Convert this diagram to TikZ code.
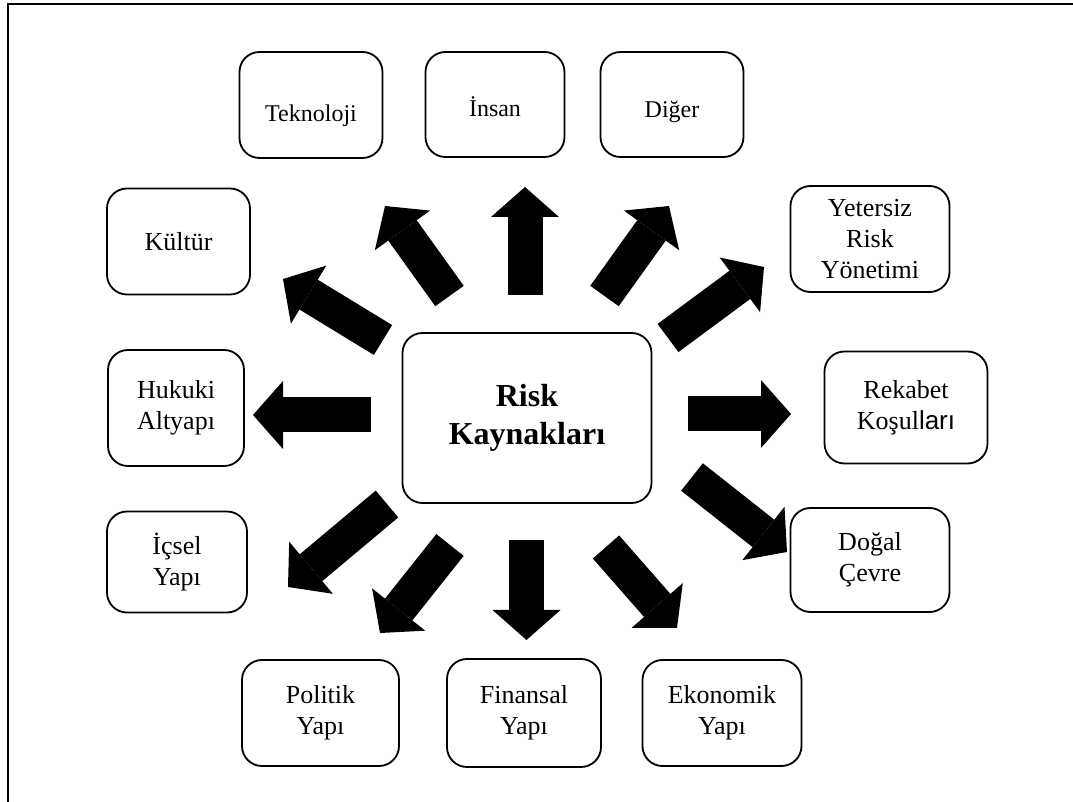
\documentclass[tikz,border=0pt]{standalone}
\usepackage{fontspec}
\setmainfont{Liberation Serif}
\newfontfamily\arialfont{Liberation Sans}
\usetikzlibrary{arrows.meta}

\begin{document}
\begin{tikzpicture}[x=0.5pt, y=-0.5pt,
    kutu/.style={draw, line width=0.9pt, rounded corners=10pt, minimum width=71.5pt,
        minimum height=53pt, align=center, inner sep=2pt, font=\fontsize{13}{15.5}\selectfont},
    ustkutu/.style={kutu, font=\fontsize{12}{14}\selectfont},
    merkez/.style={kutu, minimum width=124.5pt, minimum height=85pt, font=\fontsize{16}{19}\selectfont\bfseries},
    okblok/.style={line width=17.5pt, -{Triangle[length=15pt, width=34pt, line width=0pt]}}]

    \useasboundingbox (0,0) rectangle (1073,802);
    \draw[line width=1.4pt] (8,802) |- (1073,4);

    % Nodes
    \node[merkez] (risk) at (527,418) {Risk\\Kaynakları};
    \node[ustkutu, text height=19pt, text depth=2.6pt] (tek) at (311,105) {Teknoloji};
    \node[ustkutu, minimum width=69.5pt, minimum height=52.5pt, text height=12.2pt, text depth=0pt] (insan) at (495,104.5) {İnsan};
    \node[ustkutu, minimum height=52.5pt, text height=15.4pt, text depth=2.6pt] (diger) at (672,104.5) {Diğer};
    \node[kutu] (kultur) at (178.5,241.5) {Kültür};
    \node[kutu, minimum width=79.5pt] (yet) at (870,239) {Yetersiz\\Risk\\Yönetimi};
    \node[kutu, minimum width=68pt, minimum height=58pt] (huk) at (176,408) {Hukuki\\Altyapı};
    \node[kutu, minimum width=81.5pt, minimum height=56pt] (rek) at (906,407.5) {Rekabet\\Koşul{\arialfont ları}};
    \node[kutu, minimum width=70pt, minimum height=50.5pt] (icsel) at (177,562) {İçsel\\Yapı};
    \node[kutu, minimum width=79.5pt, minimum height=52pt] (dogal) at (870,560) {Doğal\\Çevre};
    \node[kutu, minimum width=78.5pt] (pol) at (320.5,713) {Politik\\Yapı};
    \node[kutu, minimum width=77pt, minimum height=54pt] (fin) at (524,713) {Finansal\\Yapı};
    \node[kutu, minimum width=79.5pt] (eko) at (722,713) {Ekonomik\\Yapı};

    % Arrow ends
    \coordinate (tek-s) at (449.5,296);  \coordinate (tek-e) at (385,206);
    \coordinate (ins-s) at (525,295);    \coordinate (ins-e) at (525,187);
    \coordinate (dig-s) at (604.5,296);  \coordinate (dig-e) at (669,206);
    \coordinate (kul-s) at (383,340);    \coordinate (kul-e) at (283,279);
    \coordinate (yet-s) at (668,338);    \coordinate (yet-e) at (764,267);
    \coordinate (huk-s) at (371,415);    \coordinate (huk-e) at (253,415);
    \coordinate (rek-s) at (688,414);    \coordinate (rek-e) at (791,414);
    \coordinate (ics-s) at (387,504);    \coordinate (ics-e) at (288,587);
    \coordinate (pol-s) at (450,545);    \coordinate (pol-e) at (380,633);
    \coordinate (fin-s) at (526.5,540);  \coordinate (fin-e) at (526.5,640);
    \coordinate (eko-s) at (606,547);    \coordinate (eko-e) at (677,628);
    \coordinate (dog-s) at (692,477);    \coordinate (dog-e) at (787,552);

    % Arrows
    \draw[okblok] (tek-s) -- (tek-e);
    \draw[okblok] (ins-s) -- (ins-e);
    \draw[okblok] (dig-s) -- (dig-e);
    \draw[okblok] (kul-s) -- (kul-e);
    \draw[okblok] (yet-s) -- (yet-e);
    \draw[okblok] (huk-s) -- (huk-e);
    \draw[okblok] (rek-s) -- (rek-e);
    \draw[okblok] (ics-s) -- (ics-e);
    \draw[okblok] (pol-s) -- (pol-e);
    \draw[okblok] (fin-s) -- (fin-e);
    \draw[okblok] (eko-s) -- (eko-e);
    \draw[okblok] (dog-s) -- (dog-e);

\end{tikzpicture}
\end{document}
